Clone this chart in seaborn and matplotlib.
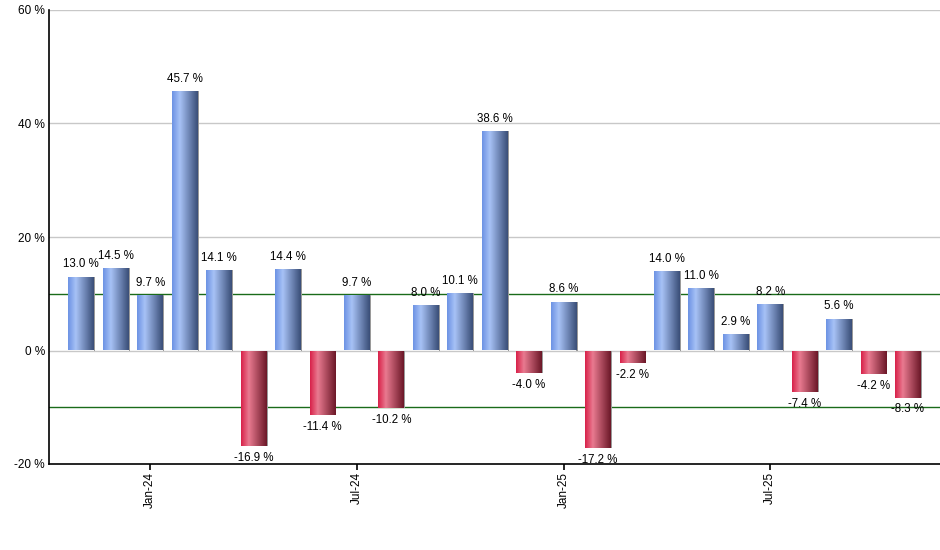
import numpy as np
import pandas as pd
import matplotlib
matplotlib.use("Agg")
import matplotlib.pyplot as plt
import seaborn as sns
from matplotlib.colors import LinearSegmentedColormap

months = ["Nov-23", "Dec-23", "Jan-24", "Feb-24", "Mar-24", "Apr-24", "May-24",
          "Jun-24", "Jul-24", "Aug-24", "Sep-24", "Oct-24", "Nov-24", "Dec-24",
          "Jan-25", "Feb-25", "Mar-25", "Apr-25", "May-25", "Jun-25", "Jul-25",
          "Aug-25", "Sep-25", "Oct-25", "Nov-25"]
values = [13.0, 14.5, 9.7, 45.7, 14.1, -16.9, 14.4, -11.4, 9.7, -10.2, 8.0,
          10.1, 38.6, -4.0, 8.6, -17.2, -2.2, 14.0, 11.0, 2.9, 8.2, -7.4, 5.6,
          -4.2, -8.3]
y_ticks = [-20, 0, 20, 40, 60]
ref_lines = [-10, 10]
shown_ticks = ["Jan-24", "Jul-24", "Jan-25", "Jul-25"]

df = pd.DataFrame({"month": months, "value": values})

sns.set_style("white")
plt.rcParams["font.family"] = ["Liberation Sans", "DejaVu Sans"]

fig = plt.figure(figsize=(9.4, 5.5), dpi=100)
ax = fig.add_axes([49 / 940, 1 - 464 / 550, 1 - 49 / 940, (464 - 10) / 550])

sns.barplot(data=df, x="month", y="value", ax=ax, width=0.75,
            color="#6f95e6", saturation=1, zorder=3)

blue_cmap = LinearSegmentedColormap.from_list(
    "b", [(0, "#6d93e4"), (0.3, "#a7c2f6"), (1, "#3a4e78")])
red_cmap = LinearSegmentedColormap.from_list(
    "r", [(0, "#d8224a"), (0.3, "#e97a90"), (1, "#6c1828")])
grad = np.linspace(0, 1, 64).reshape(1, -1)

for patch, v in zip(ax.patches, values):
    x0, w = patch.get_x(), patch.get_width()
    y0, h = patch.get_y(), patch.get_height()
    ylo, yhi = min(y0, y0 + h), max(y0, y0 + h)
    patch.set_facecolor("none")
    patch.set_edgecolor("none")
    # shadow
    ax.add_patch(plt.Rectangle((x0 + w, ylo), 0.03, yhi - ylo,
                               facecolor="#9a9a9a", edgecolor="none", zorder=2.9))
    cmap = blue_cmap if v >= 0 else red_cmap
    im = ax.imshow(grad, cmap=cmap, aspect="auto",
                   extent=(x0, x0 + w, ylo, yhi), zorder=3, interpolation="bilinear")
    im.set_clip_path(patch)
    if v >= 0:
        ax.annotate(f"{v:.1f} %", (x0 + w / 2, yhi), xytext=(0, 4.5),
                    textcoords="offset points", ha="center", va="bottom",
                    fontsize=8.3, color="black", zorder=5)
    else:
        ax.annotate(f"{v:.1f} %", (x0 + w / 2, ylo), xytext=(0, -4),
                    textcoords="offset points", ha="center", va="top",
                    fontsize=8.3, color="black", zorder=5)

ax.set_xlim(-0.94, len(months) - 1 + 0.93)
ax.set_ylim(-20, 60)
ax.set_yticks(y_ticks)
ax.set_yticklabels([f"{t} %" for t in y_ticks])
for t in y_ticks[1:]:
    ax.axhline(t, color="#c8c8c8", lw=1, zorder=1)
for t in ref_lines:
    ax.axhline(t, color="#1a6b1a", lw=1, zorder=1.5)

pos = [months.index(m) for m in shown_ticks]
ax.set_xticks(pos)
ax.set_xticklabels(shown_ticks, rotation=90, fontsize=8.5)
ax.set_xlabel("")
ax.set_ylabel("")
ax.tick_params(axis="y", left=False, length=0, pad=3, labelsize=8.5, labelcolor="black")
ax.tick_params(axis="x", bottom=True, length=4, width=1.2, direction="out", pad=2,
               color="black", labelcolor="black")

for s in ["top", "right"]:
    ax.spines[s].set_visible(False)
for s in ["left", "bottom"]:
    ax.spines[s].set_color("black")
    ax.spines[s].set_linewidth(1.2)
ax.spines["bottom"].set_zorder(6)

fig.savefig("out.png", dpi=100)
